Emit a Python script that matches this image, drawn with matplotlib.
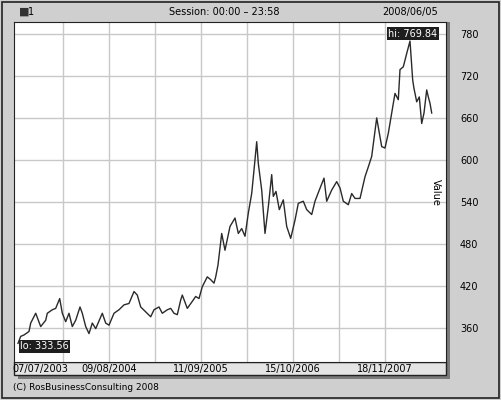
import matplotlib.pyplot as plt
from matplotlib.patches import Rectangle

# position along the time axis (chart units) and value
x_lo = [18.0, 20.7, 24.0, 29.0, 30.7, 35.7, 40.7, 45.7, 47.3, 52.3, 55.7, 59.7,
        62.3, 65.7, 69.0, 72.3, 75.7, 80.0, 82.3, 85.7, 89.0, 92.3, 95.7, 102.3,
        105.7, 109.0, 114.0, 119.0, 124.0, 129.0, 134.0, 137.3, 140.7, 145.7,
        150.7, 154.0, 159.0, 162.3, 167.3, 170.7, 174.0, 177.3, 180.7, 182.3,
        187.3, 192.3, 195.7, 199.0, 202.3, 207.3, 210.7, 214.0, 215.7, 218.0]
v_lo = [338, 348, 350, 355, 367, 381, 362, 371, 381, 386, 388, 402,
        381, 369, 381, 362, 371, 390, 381, 362, 352, 367, 359, 381,
        367, 364, 381, 386, 393, 395, 412, 407, 390, 383, 376, 386,
        390, 381, 386, 388, 381, 379, 400, 407, 388, 398, 405, 402,
        419, 433, 429, 424, 433, 450]
x_hi = [221.7, 225.0, 230.0, 235.0, 238.3, 241.7, 245.0, 248.3, 251.7, 254.3,
        256.7, 258.3, 261.7, 265.0, 268.3, 271.7, 273.3, 276.0, 279.3, 283.3,
        286.7, 290.7, 295.0, 298.3, 303.3, 306.7, 311.7, 315.0, 319.3, 324.0,
        326.7, 331.7, 336.7, 340.0, 343.3, 348.3, 351.7, 355.0, 360.0, 365.0,
        368.3, 371.7, 376.7, 381.7, 385.0, 388.3, 391.7, 395.0, 398.3, 400.0,
        403.3, 406.7, 410.0, 412.7, 414.0, 416.7, 419.3, 421.7, 424.0, 426.7,
        428.3, 430.0, 431.7]
v_hi = [495, 471, 505, 517, 495, 502, 491, 524, 552, 590, 626, 595, 557, 495,
        533, 579, 548, 555, 529, 543, 505, 488, 514, 538, 541, 529, 522, 541,
        557, 574, 541, 557, 569, 560, 541, 536, 552, 545, 545, 576, 590, 605,
        660, 619, 617, 638, 667, 695, 686, 729, 733, 752, 769.84, 714, 702,
        683, 690, 652, 667, 700, 690, 681, 667]
x_vals = x_lo + x_hi
y_vals = v_lo + v_hi

y_ticks = [360, 420, 480, 540, 600, 660, 720, 780]
x_grid = [63, 109, 155, 201, 247, 293, 339, 385]
date_labels = ['07/07/2003', '09/08/2004', '11/09/2005', '15/10/2006', '18/11/2007']
date_pos = [40, 109, 201, 293, 385]

W, H = 501, 400
plt.rcParams['font.family'] = 'DejaVu Sans'
fig = plt.figure(figsize=(5.01, 4.0), dpi=100, facecolor='#cfcfcf')

# outer border
fig.patches.append(Rectangle((2 / W, 2 / H), 1 - 4 / W, 1 - 4 / H, transform=fig.transFigure,
                             fill=False, edgecolor='#222222', lw=1.2, zorder=-2))
# shadow and label strip
fig.patches.append(Rectangle((18 / W, 1 - 379 / H), 432 / W, 357 / H, transform=fig.transFigure,
                             facecolor='#7a7a7a', edgecolor='none', zorder=-2))
fig.patches.append(Rectangle((14 / W, 1 - 375 / H), 432 / W, 13 / H, transform=fig.transFigure,
                             facecolor='#e4e4e4', edgecolor='#222222', lw=1, zorder=-1))

ax = fig.add_axes([14 / W, 1 - 362 / H, 432 / W, 340 / H])
ax.set_zorder(1)
ax.set_facecolor('white')
ax.plot(x_vals, y_vals, color='#2a2a2a', lw=1.0)
ax.set_xlim(14, 446)
ax.set_ylim(311.4, 797)
for g in x_grid:
    ax.axvline(g, color='#c8c8c8', lw=1, zorder=0)
for t in y_ticks:
    ax.axhline(t, color='#c8c8c8', lw=1, zorder=0)
ax.set_xticks([])
ax.yaxis.tick_right()
ax.set_yticks(y_ticks)
ax.set_yticklabels([str(t) for t in y_ticks], fontsize=7)
ax.tick_params(axis='y', length=0, pad=10)
for s in ax.spines.values():
    s.set_color('#222222')
ax.text(0.977, 0.5, 'Value', transform=ax.transAxes, rotation=270,
        fontsize=7, va='center', ha='center')

bbox = dict(boxstyle='square,pad=0.15', facecolor='#1e1e1e', edgecolor='none')
ax.text(388, 780, 'hi: 769.84', color='white', fontsize=7, va='center', ha='left', bbox=bbox)
ax.text(20, 334, 'lo: 333.56', color='white', fontsize=7, va='center', ha='left', bbox=bbox)

for lab, p in zip(date_labels, date_pos):
    fig.text(p / W, 1 - 369 / H, lab, fontsize=7, ha='center', va='center')

fig.text(19 / W, 1 - 12 / H, '\u25a0', fontsize=8, color='#333333', va='center')
fig.text(28 / W, 1 - 12 / H, '1', fontsize=7, va='center')
fig.text(224 / W, 1 - 12 / H, 'Session: 00:00 \u2013 23:58', fontsize=7, ha='center', va='center')
fig.text(410 / W, 1 - 12 / H, '2008/06/05', fontsize=7, ha='center', va='center')
fig.text(13 / W, 1 - 388 / H, '(C) RosBusinessConsulting 2008', fontsize=6.5, va='center')

fig.savefig('out.png', dpi=100, facecolor=fig.get_facecolor())
